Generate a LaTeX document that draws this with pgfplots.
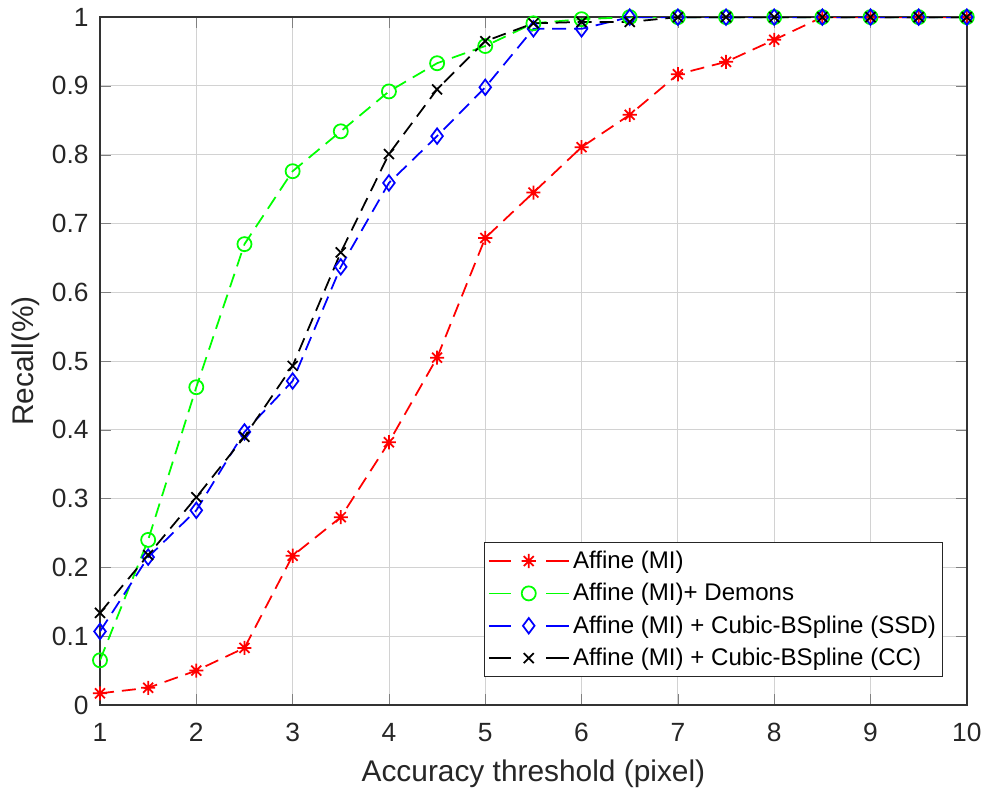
\documentclass[border=0pt]{standalone}
\usepackage{fontspec}
\setmainfont{Liberation Sans}
\usepackage{pgfplots}
\pgfplotsset{compat=1.18}

% MATLAB style '*' marker: plus and cross together
\pgfdeclareplotmark{mstar}{%
  \pgfpathmoveto{\pgfqpoint{0pt}{\pgfplotmarksize}}%
  \pgfpathlineto{\pgfqpoint{0pt}{-\pgfplotmarksize}}%
  \pgfpathmoveto{\pgfqpoint{\pgfplotmarksize}{0pt}}%
  \pgfpathlineto{\pgfqpoint{-\pgfplotmarksize}{0pt}}%
  \pgfpathmoveto{\pgfqpoint{0.707\pgfplotmarksize}{0.707\pgfplotmarksize}}%
  \pgfpathlineto{\pgfqpoint{-0.707\pgfplotmarksize}{-0.707\pgfplotmarksize}}%
  \pgfpathmoveto{\pgfqpoint{-0.707\pgfplotmarksize}{0.707\pgfplotmarksize}}%
  \pgfpathlineto{\pgfqpoint{0.707\pgfplotmarksize}{-0.707\pgfplotmarksize}}%
  \pgfusepathqstroke}

\begin{document}
\begin{tikzpicture}[x=0.02cm,y=0.02cm]
\begin{axis}[
  at={(0,0)}, anchor=south west,
  scale only axis,
  width=17.34cm, height=13.76cm,
  xmin=1, xmax=10, ymin=0, ymax=1,
  xtick={1,2,...,10},
  ytick={0,0.1,...,1.0},
  yticklabels={0,0.1,0.2,0.3,0.4,0.5,0.6,0.7,0.8,0.9,1},
  tick align=inside,
  tick pos=both,
  major tick length=6pt,
  grid=major,
  grid style={gray!35, line width=0.5pt},
  axis line style={line width=0.8pt, black!80},
  ticklabel style={font=\fontsize{15}{17}\selectfont, text=black!85},
  yticklabel style={xshift=-3pt},
  xticklabel style={yshift=-7pt},
  /pgf/number format/assume math mode=true,
  xlabel={Accuracy threshold (pixel)},
  ylabel={Recall(\%)},
  label style={font=\fontsize{17}{19}\selectfont, text=black!85},
  xlabel style={yshift=-3pt},
  legend style={
    at={(0.973,0.04)}, anchor=south east,
    font=\fontsize{13.7}{16}\selectfont,
    draw=black!85, line width=0.6pt,
    inner xsep=2pt, inner ysep=3pt,
    row sep=3pt,
  },
  legend cell align=left,
  legend image code/.code={%
    \draw[mark repeat=2, mark phase=2, dash pattern=on 0.45cm off 0.7cm on 0.45cm]
      plot coordinates {(0cm,0cm) (0.8cm,0cm) (1.6cm,0cm)};},
  every axis plot/.append style={line width=1pt, dash pattern=on 8pt off 4.5pt, mark size=4pt},
]
%% Affine (MI)
\addplot[red, mark=mstar, mark options={solid}] coordinates {
  (1,0.017) (1.5,0.025) (2,0.05) (2.5,0.083) (3,0.217) (3.5,0.273) (4,0.382)
  (4.5,0.505) (5,0.679) (5.5,0.745) (6,0.811) (6.5,0.858) (7,0.917) (7.5,0.935)
  (8,0.967) (8.5,1) (9,1) (9.5,1) (10,1)};
%% Affine (MI) + Demons
\addplot[green, mark=o, mark options={solid}] coordinates {
  (1,0.065) (1.5,0.24) (2,0.462) (2.5,0.67) (3,0.776) (3.5,0.834) (4,0.892)
  (4.5,0.933) (5,0.958) (5.5,0.991) (6,0.997) (6.5,1) (7,1) (7.5,1)
  (8,1) (8.5,1) (9,1) (9.5,1) (10,1)};
%% Affine (MI) + Cubic-BSpline (SSD)
\addplot[blue, mark=diamond, mark options={solid, scale=1.1}] coordinates {
  (1,0.107) (1.5,0.215) (2,0.283) (2.5,0.397) (3,0.471) (3.5,0.637) (4,0.759)
  (4.5,0.827) (5,0.898) (5.5,0.983) (6,0.983) (6.5,1) (7,1) (7.5,1)
  (8,1) (8.5,1) (9,1) (9.5,1) (10,1)};
%% Affine (MI) + Cubic-BSpline (CC)
\addplot[black, mark=x, mark options={solid}] coordinates {
  (1,0.134) (1.5,0.218) (2,0.302) (2.5,0.39) (3,0.493) (3.5,0.658) (4,0.801)
  (4.5,0.895) (5,0.965) (5.5,0.991) (6,0.993) (6.5,0.993) (7,1) (7.5,1)
  (8,1) (8.5,1) (9,1) (9.5,1) (10,1)};
\legend{Affine (MI), Affine (MI)+ Demons, Affine (MI) + Cubic-BSpline (SSD), Affine (MI) + Cubic-BSpline (CC)}
\end{axis}
\pgfresetboundingbox
\path (-100,-90) rectangle (890,705);
\end{tikzpicture}
\end{document}
